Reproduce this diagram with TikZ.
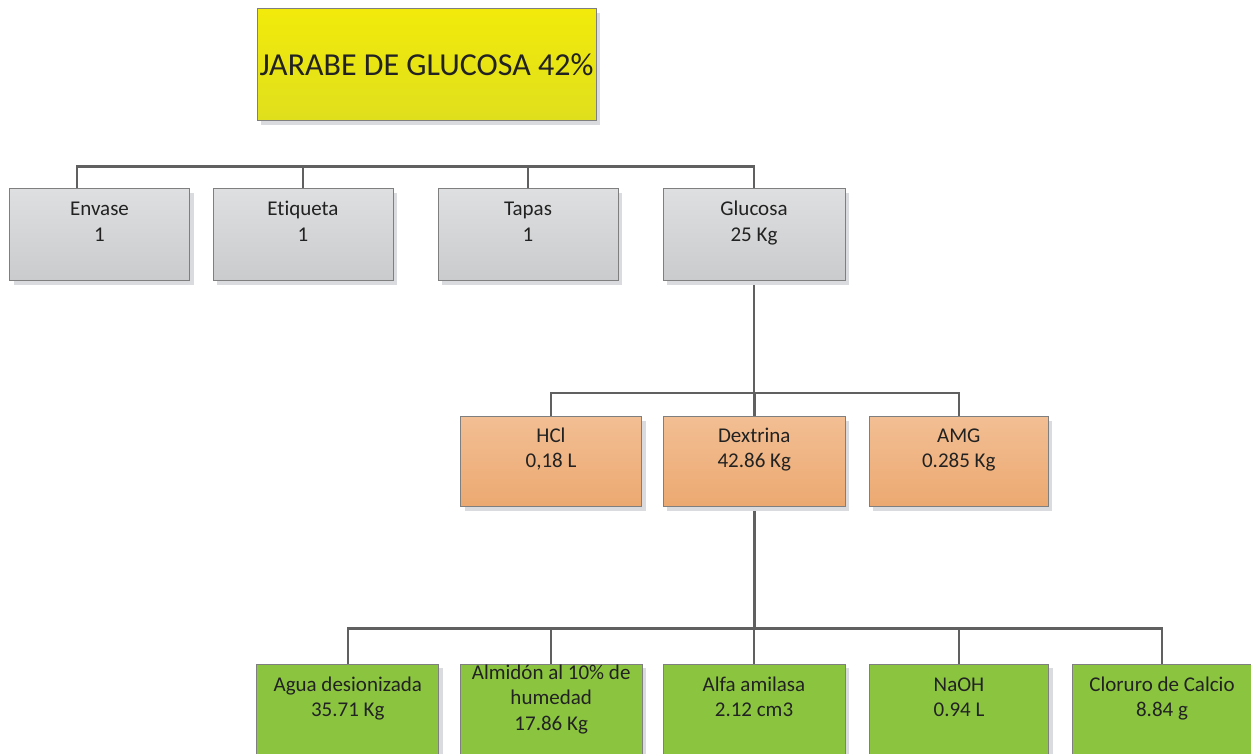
\documentclass[tikz,border=0pt]{standalone}
\usepackage{fontspec}
\setmainfont{Carlito}[Ligatures={NoCommon}]
\usetikzlibrary{shadows,backgrounds}
\definecolor{linegray}{HTML}{606060}
\definecolor{bordergray}{HTML}{7F7F7F}
\definecolor{shadowgray}{HTML}{D9DBDE}
\definecolor{gtop}{HTML}{DEDFE0}
\definecolor{gbot}{HTML}{CACBCD}
\definecolor{otop}{HTML}{F2BE93}
\definecolor{obot}{HTML}{ECA971}
\definecolor{grn}{HTML}{8BC540}
\definecolor{ytop}{HTML}{F2EA0A}
\definecolor{ybot}{HTML}{DFDF1D}
\definecolor{txtcol}{HTML}{222222}
\tikzset{
  conn/.style={draw=linegray, line width=2.5pt, line join=miter},
  boxbase/.style={draw=bordergray, line width=1pt, inner sep=0pt,
    drop shadow={shadow xshift=4pt, shadow yshift=-4pt, fill=shadowgray, opacity=1}},
  graybox/.style={boxbase, top color=gtop, bottom color=gbot, minimum width=180pt, minimum height=92pt},
  orangebox/.style={boxbase, top color=otop, bottom color=obot, minimum width=181pt, minimum height=90pt},
  greenbox/.style={boxbase, fill=grn, minimum width=182pt, minimum height=92pt},
  titlebox/.style={boxbase, top color=ytop, bottom color=ybot, minimum width=339pt, minimum height=112pt,
    font=\fontsize{32}{38}\selectfont, text=txtcol},
  lbl/.style={font=\fontsize{21}{25.5}\selectfont, align=center, anchor=north, inner sep=0pt, text=txtcol},
}
\newcommand{\topstrut}{\rule{0pt}{17pt}}
\begin{document}
\begin{tikzpicture}[x=1pt,y=-1pt]
\path[use as bounding box, clip] (0,0) rectangle (1251,754);

% title
\node[titlebox] (title) at (426.5,65) {JARABE DE GLUCOSA 42\%};

% row 1
\node[graybox] (envase) at (99.5,235) {};
\node[graybox] (etiqueta) at (303,235) {};
\node[graybox] (tapas) at (528,235) {};
\node[graybox, minimum width=182pt] (glucosa) at (754,235) {};
\node[lbl] (envaset) at ([yshift=-10pt]envase.north) {\topstrut Envase\\1};
\node[lbl] (etiquetat) at ([yshift=-10pt]etiqueta.north) {\topstrut Etiqueta\\1};
\node[lbl] (tapast) at ([yshift=-10pt]tapas.north) {\topstrut Tapas\\1};
\node[lbl] (glucosat) at ([yshift=-10pt]glucosa.north) {\topstrut Glucosa\\25 Kg};

% row 2
\node[orangebox] (hcl) at (551,461.7) {};
\node[orangebox, minimum width=182pt] (dextrina) at (754.3,461.7) {};
\node[orangebox, minimum width=179pt] (amg) at (958.8,461.7) {};
\node[lbl] (hclt) at ([yshift=-9pt]hcl.north) {\topstrut HCl\\0,18 L};
\node[lbl] (dextrinat) at ([yshift=-9pt]dextrina.north) {\topstrut Dextrina\\42.86 Kg};
\node[lbl] (amgt) at ([yshift=-9pt]amg.north) {\topstrut AMG\\0.285 Kg};

% row 3
\node[greenbox] (agua) at (347.8,710.3) {};
\node[greenbox] (almidon) at (551.2,710.3) {};
\node[greenbox] (alfa) at (754,710.3) {};
\node[greenbox, minimum width=179.4pt] (naoh) at (959,710.3) {};
\node[greenbox, minimum width=184pt] (cloruro) at (1164,710.3) {};
\node[lbl] (aguat) at ([yshift=-10.4pt]agua.north) {\topstrut Agua desionizada\\35.71 Kg};
\node[lbl] (almidont) at ([yshift=2pt]almidon.north) {\topstrut Almidón al 10\% de\\humedad\\17.86 Kg};
\node[lbl] (alfat) at ([yshift=-10.4pt]alfa.north) {\topstrut Alfa amilasa\\2.12 cm3};
\node[lbl] (naoht) at ([yshift=-10.4pt]naoh.north) {\topstrut NaOH\\0.94 L};
\node[lbl] (clorurot) at ([xshift=-2pt,yshift=-10.4pt]cloruro.north) {\topstrut Cloruro de Calcio\\8.84 g};

\coordinate (busA) at (0,166.5);
\coordinate (busB) at (0,393);
\coordinate (busC) at (0,628.3);

\begin{scope}[on background layer]
  \fill[white] (0,0) rectangle (1251,754);
  % row 1 bus
  \draw[conn] ([xshift=-22.5pt]envase.north) |- (glucosa.north |- busA) -- (glucosa.north);
  \draw[conn] (etiqueta.north) -- (etiqueta.north |- busA);
  \draw[conn] (tapas.north) -- (tapas.north |- busA);
  % row 2 bus
  \draw[conn] (glucosa.south) -- (glucosa.south |- busB);
  \draw[conn] (hcl.north) |- (amg.north |- busB) -- (amg.north);
  \draw[conn] (dextrina.north) -- (dextrina.north |- busB);
  % row 3 bus
  \draw[conn] (dextrina.south) -- (dextrina.south |- busC);
  \draw[conn] (agua.north) |- ([xshift=-2pt]cloruro.north |- busC) -- ([xshift=-2pt]cloruro.north);
  \draw[conn] (almidon.north) -- (almidon.north |- busC);
  \draw[conn] (alfa.north) -- (alfa.north |- busC);
  \draw[conn] (naoh.north) -- (naoh.north |- busC);
\end{scope}
\end{tikzpicture}
\end{document}
